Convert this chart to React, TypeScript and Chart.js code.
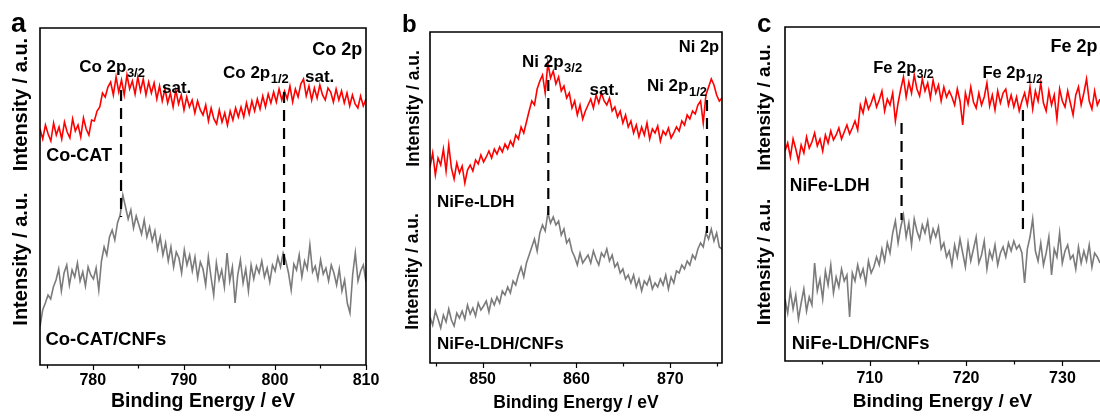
import React, { useEffect, useRef } from 'react';
import { Chart, registerables } from 'chart.js';
Chart.register(...registerables);

const FONT = "'Liberation Sans', Arial, Helvetica, sans-serif";
const RED = '#ff0000';
const GRAY = '#7b7b7b';

// ---------- Panel a : Co 2p ----------
const rangeA = [774.2, 810];
const coCAT = [236, 226, 240, 231, 224, 242, 230, 238, 226, 243, 233, 227, 246, 234, 240, 228, 247, 236, 230, 245,
  244, 254, 258, 272, 268, 278,
  283, 270, 288, 273, 285, 270, 290, 276, 284, 271, 288, 274, 286, 270, 283, 272, 282, 266, 279,
  264, 276, 262, 272, 258, 275, 261, 270, 255, 268, 258, 265, 252, 264, 255,
  250, 260, 244, 257, 246, 241, 255, 243, 252, 240, 254, 245, 257, 248,
  258, 248, 262, 251, 264, 254, 266, 256, 269, 258, 271, 262, 273, 263, 276, 265, 274,
  266, 279, 263, 276, 268, 281, 286, 269, 279, 265, 277, 267, 280, 270, 265, 277,
  273, 263, 276, 265, 274, 262, 272, 259, 270, 261, 257, 269, 259, 266];
const coCATCNFs = [38, 55, 62, 70, 66, 78,
  85, 96, 74, 92, 100, 80, 95, 88, 102, 84, 93, 79, 98, 90, 86, 97, 75,
  104, 118, 110, 128, 135, 125, 142, 150,
  170, 158,
  146, 155, 137, 149, 140, 131, 145, 128, 138, 124, 134, 116, 128, 110,
  122, 104, 118, 98, 113, 107, 92, 115, 100, 110, 94, 108, 87, 103,
  96, 80, 108, 88, 70, 102, 85, 95, 78, 112, 84, 98, 62, 90, 105, 82, 96, 74, 100,
  86, 99, 92, 104, 88, 97, 83, 100, 94, 108, 98, 112, 104,
  92, 75, 101, 95, 110, 88, 104, 96, 120, 93, 99, 86, 105, 91, 97, 84, 100,
  92, 80, 96, 74, 85, 62, 52, 90, 112, 84, 94, 100, 83];
const peaksA = [783.1, 801.0];
const dashTopA = [275, 273];
const dashBotA = [148, 95];

// ---------- Panel b : Ni 2p ----------
const rangeB = [844.4, 875.5];
const niFeLDH_Ni = [196, 210, 188, 205, 198, 214, 192, 218, 195, 184, 200, 190, 197, 180, 193,
  198, 192, 203, 199, 208, 201, 206, 212, 205, 214, 209, 216, 211, 219, 214,
  222, 217, 228, 224, 236, 230, 241,
  252, 262, 258, 274, 282,
  288, 270, 300, 285,
  292, 279, 286, 272, 277, 265, 270,
  255, 262, 248, 258, 244, 252,
  258, 264, 255, 268, 260, 270, 262, 258, 265, 252,
  256, 246, 252, 240, 248, 236,
  242, 230, 238, 226, 236, 228, 240, 224, 234, 230, 237, 222, 232, 228, 235, 225, 230,
  236, 232, 242, 238, 248, 244, 252, 249, 258, 262, 240, 268, 276, 284, 278, 268, 262, 265];
const niFeLDHCNFs_Ni = [46, 38, 52, 44, 35, 48, 41, 54, 43, 37, 50, 45,
  52, 44, 58, 49, 55, 47, 60, 53, 57, 62, 51, 64, 58,
  66, 60, 72, 68, 76, 70, 82, 78,
  88, 96, 86, 100, 108,
  116, 124, 112, 130,
  138, 132, 150, 140, 146,
  138, 142, 128, 134, 120, 124, 112,
  106, 98, 110, 100, 104,
  108, 100, 112, 104, 98, 110, 106, 114, 102, 108, 96,
  100, 90, 94, 84, 88,
  80, 88, 76, 84, 72, 82, 78, 86, 74, 80, 76, 84, 78, 88, 74, 86, 80, 92,
  90, 98, 94, 102, 98, 108, 104, 114,
  120, 116, 130, 124, 134,
  122, 130, 116, 114];
const peaksB = [857.0, 873.9];
const dashTopB = [283, 263];
const dashBotB = [148, 130];

// ---------- Panel c : Fe 2p ----------
const rangeC = [701.2, 733.9];
const niFeLDH_Fe = [210, 218, 204, 222, 212, 200, 216,
  208, 224, 213, 219, 228, 215, 222, 210, 226, 218, 230, 221, 226, 233, 222, 229, 236, 227, 233, 240, 231,
  256, 248, 262, 252, 258,
  266, 254, 261, 270, 250, 262, 256, 268,
  240, 258,
  272, 284, 264, 279, 268, 286, 272, 265, 282, 270, 278, 263, 281, 268, 276, 260, 274, 264, 270,
  264, 256, 272, 260, 236, 268, 257, 274, 259, 253, 268, 256, 264, 278, 255, 266, 251, 270, 258, 268, 272, 256, 266, 254, 264, 250, 260,
  268, 256, 274, 252, 270, 260, 278, 258, 250, 270, 256, 266, 242, 272, 260, 254, 270, 258, 246, 266, 274, 256, 268, 282, 260, 252, 270, 256, 262];
const niFeLDHCNFs_Fe = [62, 48, 70, 52, 66, 42, 58, 72, 50, 64, 56,
  98, 70, 82, 62, 90, 76, 96, 68, 84, 74, 92, 80, 86, 44,
  88, 80, 96, 84, 92, 78, 100, 88, 94,
  104, 96, 112, 100, 118, 108,
  128, 140, 118, 134, 146, 124, 138, 116, 142, 130, 122, 136, 128, 140, 120, 132,
  124, 134, 112, 118, 104, 110,
  96, 116, 104, 122, 108, 94, 118, 100, 112, 124, 98, 106, 120, 92, 110, 102, 116, 96, 108, 114, 104, 118, 110, 120, 112, 116, 108,
  78, 112, 124, 142, 110, 100,
  118, 96, 108, 124, 86, 112, 104, 128, 98, 110, 116, 102, 106, 92, 114, 98, 110, 100, 116, 94, 108, 104, 98];
const peaksC = [713.3, 725.9];
const dashTopC = [238, 251];
const dashBotC = [141, 131];

const X_TITLE = 'Binding Energy / eV';
const Y_TITLE = 'Intensity / a.u.';

type Txt = { t: string; s?: string; e: number; v: number; size: number; align?: 'left' | 'right' };
type Spec = {
  key: string; letter: string; left: number; width: number;
  pad: { left: number; right: number; top: number };
  range: number[]; yMax: number; top: number[]; bottom: number[];
  peaks: number[]; dashTop: number[]; dashBot: number[];
  axisH: number; tickPad: number; titleSize: number; titlePad: number;
  texts: Txt[]; ylabels: { x: number; y: number }[]; ySize: number;
  letterPos: { x: number; y: number; size: number };
  rightBorder: boolean;
};

const specs: Spec[] = [
  {
    key: 'a', letter: 'a', left: 0, width: 390, pad: { left: 40, right: 24, top: 28 },
    range: rangeA, yMax: 337, top: coCAT, bottom: coCATCNFs,
    peaks: peaksA, dashTop: dashTopA, dashBot: dashBotA,
    axisH: 52, tickPad: 6, titleSize: 19.5, titlePad: 3.3,
    texts: [
      { t: 'Co 2p', e: 809.6, v: 310, size: 18, align: 'right' },
      { t: 'Co 2p', s: '3/2', e: 778.5, v: 293, size: 17 },
      { t: 'sat.', e: 787.6, v: 272, size: 17 },
      { t: 'Co 2p', s: '1/2', e: 794.3, v: 287, size: 17 },
      { t: 'sat.', e: 803.3, v: 283, size: 17 },
      { t: 'Co-CAT', e: 774.9, v: 204, size: 18 },
      { t: 'Co-CAT/CNFs', e: 774.8, v: 20, size: 18.5 },
    ],
    ylabels: [{ x: 21, y: 104.5 }, { x: 21, y: 259 }], ySize: 20,
    letterPos: { x: 11, y: 32, size: 27 }, rightBorder: true,
  },
  {
    key: 'b', letter: 'b', left: 395, width: 340, pad: { left: 35, right: 13, top: 32 },
    range: rangeB, yMax: 331, top: niFeLDH_Ni, bottom: niFeLDHCNFs_Ni,
    peaks: peaksB, dashTop: dashTopB, dashBot: dashBotB,
    axisH: 54, tickPad: 7, titleSize: 17.5, titlePad: 3.5,
    texts: [
      { t: 'Ni 2p', e: 875.2, v: 311, size: 16.5, align: 'right' },
      { t: 'Ni 2p', s: '3/2', e: 854.2, v: 296, size: 17 },
      { t: 'sat.', e: 861.4, v: 268, size: 17 },
      { t: 'Ni 2p', s: '1/2', e: 867.5, v: 272, size: 17 },
      { t: 'NiFe-LDH', e: 845.15, v: 156, size: 17 },
      { t: 'NiFe-LDH/CNFs', e: 845.15, v: 14, size: 17 },
    ],
    ylabels: [{ x: 414, y: 108.5 }, { x: 413, y: 271.5 }], ySize: 17.5,
    letterPos: { x: 402, y: 32, size: 24 }, rightBorder: true,
  },
  {
    key: 'c', letter: 'c', left: 740, width: 360, pad: { left: 45, right: 0, top: 27 },
    range: rangeC, yMax: 334, top: niFeLDH_Fe, bottom: niFeLDHCNFs_Fe,
    peaks: peaksC, dashTop: dashTopC, dashBot: dashBotC,
    axisH: 56, tickPad: 8, titleSize: 19, titlePad: 4.1,
    texts: [
      { t: 'Fe 2p', e: 728.75, v: 309, size: 18 },
      { t: 'Fe 2p', s: '3/2', e: 710.35, v: 288, size: 16.5 },
      { t: 'Fe 2p', s: '1/2', e: 721.7, v: 283, size: 16.5 },
      { t: 'NiFe-LDH', e: 701.7, v: 170, size: 17.5 },
      { t: 'NiFe-LDH/CNFs', e: 701.9, v: 12, size: 18.5 },
    ],
    ylabels: [{ x: 765, y: 107.5 }, { x: 765, y: 262 }], ySize: 19,
    letterPos: { x: 757, y: 32, size: 26 }, rightBorder: false,
  },
];

function toPoints(range: number[], vals: number[]) {
  const n = vals.length;
  const step = (range[1] - range[0]) / (n - 1);
  return vals.map((v, i) => ({ x: range[0] + i * step, y: v }));
}

function makeOverlay(spec: Spec) {
  return {
    id: 'overlay_' + spec.key,
    afterDatasetsDraw(chart: any) {
      const { ctx, chartArea, scales } = chart;
      const { left, right, top, bottom } = chartArea;
      const xs = scales.x;
      ctx.save();
      ctx.strokeStyle = '#000';
      ctx.lineWidth = 1.6;
      ctx.beginPath();
      if (spec.rightBorder) {
        ctx.rect(left, top, right - left, bottom - top);
      } else {
        ctx.moveTo(right, top);
        ctx.lineTo(left, top);
        ctx.lineTo(left, bottom);
        ctx.lineTo(right, bottom);
      }
      ctx.stroke();
      // tick marks (major every 10, minor every 5)
      ctx.lineWidth = 1.2;
      ctx.beginPath();
      for (let e = Math.ceil(xs.min / 5) * 5; e <= xs.max + 1e-6; e += 5) {
        const px = Math.round(xs.getPixelForValue(e)) + 0.5;
        ctx.moveTo(px, bottom);
        ctx.lineTo(px, bottom + (e % 10 === 0 ? 5 : 3.5));
      }
      ctx.stroke();
      ctx.restore();
    },
    afterDraw(chart: any) {
      const { ctx, scales } = chart;
      const xs = scales.x;
      const ys = scales.y;
      ctx.save();
      ctx.fillStyle = '#000';
      ctx.textBaseline = 'alphabetic';
      for (const t of spec.texts) {
        const main = `bold ${t.size}px ${FONT}`;
        const subSize = Math.round(t.size * 0.74);
        const subF = `bold ${subSize}px ${FONT}`;
        ctx.font = main;
        const w1 = ctx.measureText(t.t).width;
        ctx.font = subF;
        const w2 = t.s ? ctx.measureText(t.s).width : 0;
        let px = xs.getPixelForValue(t.e);
        const py = ys.getPixelForValue(t.v);
        if (t.align === 'right') px -= w1 + w2;
        ctx.textAlign = 'left';
        ctx.font = main;
        ctx.fillText(t.t, px, py);
        if (t.s) {
          ctx.font = subF;
          ctx.fillText(t.s, px + w1 + 0.5, py + t.size * 0.28);
        }
      }
      // y-axis labels
      ctx.font = `bold ${spec.ySize}px ${FONT}`;
      ctx.textAlign = 'center';
      ctx.textBaseline = 'middle';
      for (const yl of spec.ylabels) {
        ctx.save();
        ctx.translate(yl.x - spec.left, yl.y);
        ctx.rotate(-Math.PI / 2);
        ctx.fillText(Y_TITLE, 0, 0);
        ctx.restore();
      }
      // panel letter
      ctx.font = `bold ${spec.letterPos.size}px ${FONT}`;
      ctx.textAlign = 'left';
      ctx.textBaseline = 'alphabetic';
      ctx.fillText(spec.letter, spec.letterPos.x - spec.left, spec.letterPos.y);
      ctx.restore();
    },
  };
}

function Panel({ spec }: { spec: Spec }) {
  const ref = useRef<HTMLCanvasElement>(null);
  useEffect(() => {
    const dashSets = spec.peaks.map((p, i) => ({
      data: [{ x: p, y: spec.dashTop[i] }, { x: p, y: spec.dashBot[i] }],
      borderColor: '#000',
      borderWidth: 2.2,
      borderDash: [11, 7],
      pointRadius: 0,
      fill: false,
    }));
    const chart = new Chart(ref.current as HTMLCanvasElement, {
      type: 'line',
      data: {
        datasets: [
          ...dashSets,
          { data: toPoints(spec.range, spec.top), borderColor: RED, borderWidth: 1.6, pointRadius: 0, tension: 0, fill: false },
          { data: toPoints(spec.range, spec.bottom), borderColor: GRAY, borderWidth: 1.6, pointRadius: 0, tension: 0, fill: false },
        ] as any,
      },
      options: {
        responsive: false,
        animation: false,
        devicePixelRatio: 1,
        layout: { padding: { left: spec.pad.left, right: spec.pad.right, top: spec.pad.top, bottom: 0 } },
        plugins: { legend: { display: false }, tooltip: { enabled: false } },
        scales: {
          x: {
            type: 'linear',
            min: spec.range[0],
            max: spec.range[1],
            grid: { display: false, drawTicks: false },
            border: { display: false },
            ticks: {
              stepSize: 10,
              includeBounds: false,
              autoSkip: false,
              maxRotation: 0,
              padding: spec.tickPad,
              color: '#000',
              font: { family: FONT, size: 16, weight: 'bold' },
            },
            title: {
              display: true,
              text: X_TITLE,
              color: '#000',
              font: { family: FONT, size: spec.titleSize, weight: 'bold' },
              padding: { top: 0, bottom: spec.titlePad },
            },
            afterFit: (s: any) => { s.height = spec.axisH; },
          },
          y: { type: 'linear', display: false, min: 0, max: spec.yMax },
        },
      } as any,
      plugins: [makeOverlay(spec)],
    });
    return () => chart.destroy();
  }, []);
  return (
    <canvas
      ref={ref}
      width={spec.width}
      height={417}
      style={{ position: 'absolute', left: spec.left, top: 0, width: spec.width, height: 417, display: 'block' }}
    />
  );
}

export default function App() {
  return (
    <div style={{ position: 'absolute', left: 0, top: 0, width: 1100, height: 417, overflow: 'hidden', background: '#fff' }}>
      {specs.map((s) => <Panel key={s.key} spec={s} />)}
    </div>
  );
}
